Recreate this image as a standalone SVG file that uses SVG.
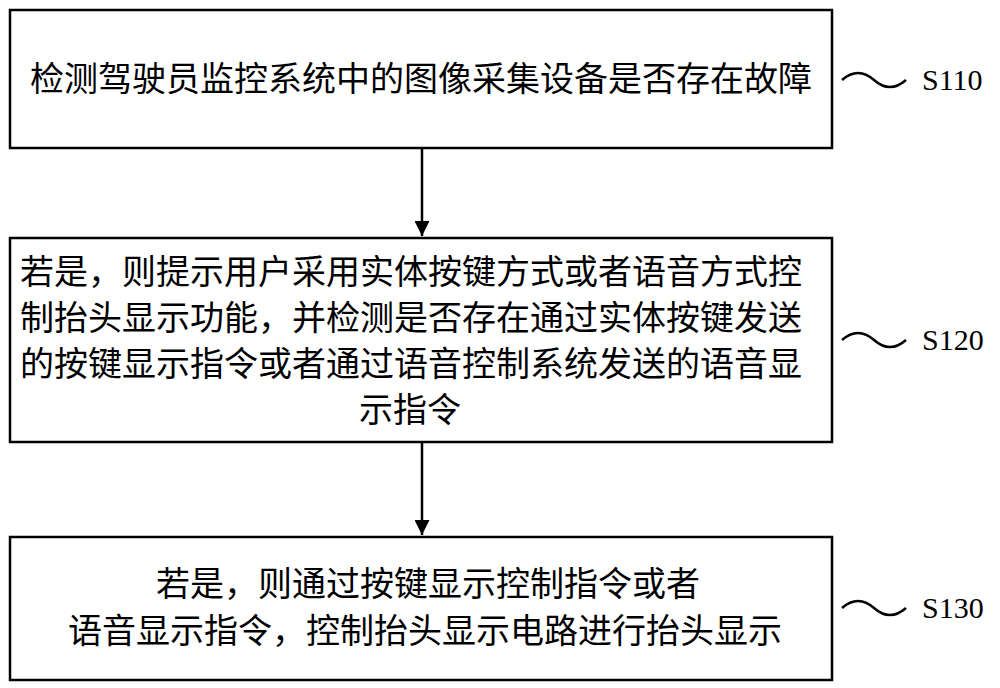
<svg xmlns="http://www.w3.org/2000/svg" width="1000" height="688" viewBox="0 0 1000 688">
<style>
.box{fill:#fff;stroke:#000;stroke-width:2.5}
.t{font-family:"Noto Sans CJK SC","Liberation Sans",sans-serif;font-size:34px;fill:#000}
.s{font-family:"Liberation Serif",serif;font-size:30px;fill:#000}
.c{fill:none;stroke:#000;stroke-width:2.5}
</style>
<defs><marker id="a" viewBox="0 0 10 10" refX="10" refY="5" markerWidth="6" markerHeight="6" orient="auto"><path d="M0,0L10,5L0,10z" fill="#000"/></marker></defs>
<rect width="1000" height="688" fill="#fff"/>
<g id="n1"><rect class="box" x="10" y="10" width="822" height="138"/>
<text class="t" x="421" y="91" text-anchor="middle">检测驾驶员监控系统中的图像采集设备是否存在故障</text></g>
<g id="n2"><rect class="box" x="10" y="238" width="822" height="204"/>
<text class="t" x="20" y="284">若是，则提示用户采用实体按键方式或者语音方式控</text>
<text class="t" x="20" y="330">制抬头显示功能，并检测是否存在通过实体按键发送</text>
<text class="t" x="20" y="376">的按键显示指令或者通过语音控制系统发送的语音显</text>
<text class="t" x="410" y="422" text-anchor="middle">示指令</text></g>
<g id="n3"><rect class="box" x="10" y="537" width="822" height="143"/>
<text class="t" x="428" y="596" text-anchor="middle">若是，则通过按键显示控制指令或者</text>
<text class="t" x="425" y="643" text-anchor="middle">语音显示指令，控制抬头显示电路进行抬头显示</text></g>
<g id="connectors">
<line class="c" x1="422" y1="148" x2="422" y2="236" marker-end="url(#a)"/>
<line class="c" x1="422" y1="442" x2="422" y2="535" marker-end="url(#a)"/>
<path class="c" d="M842,80 Q858,66 874,80 T906,80"/>
<path class="c" d="M842,340 Q858,326 874,340 T906,340"/>
<path class="c" d="M842,608 Q858,594 874,608 T906,608"/>
</g>
<text class="s" x="922" y="90">S110</text>
<text class="s" x="922" y="350">S120</text>
<text class="s" x="922" y="618">S130</text>
</svg>
